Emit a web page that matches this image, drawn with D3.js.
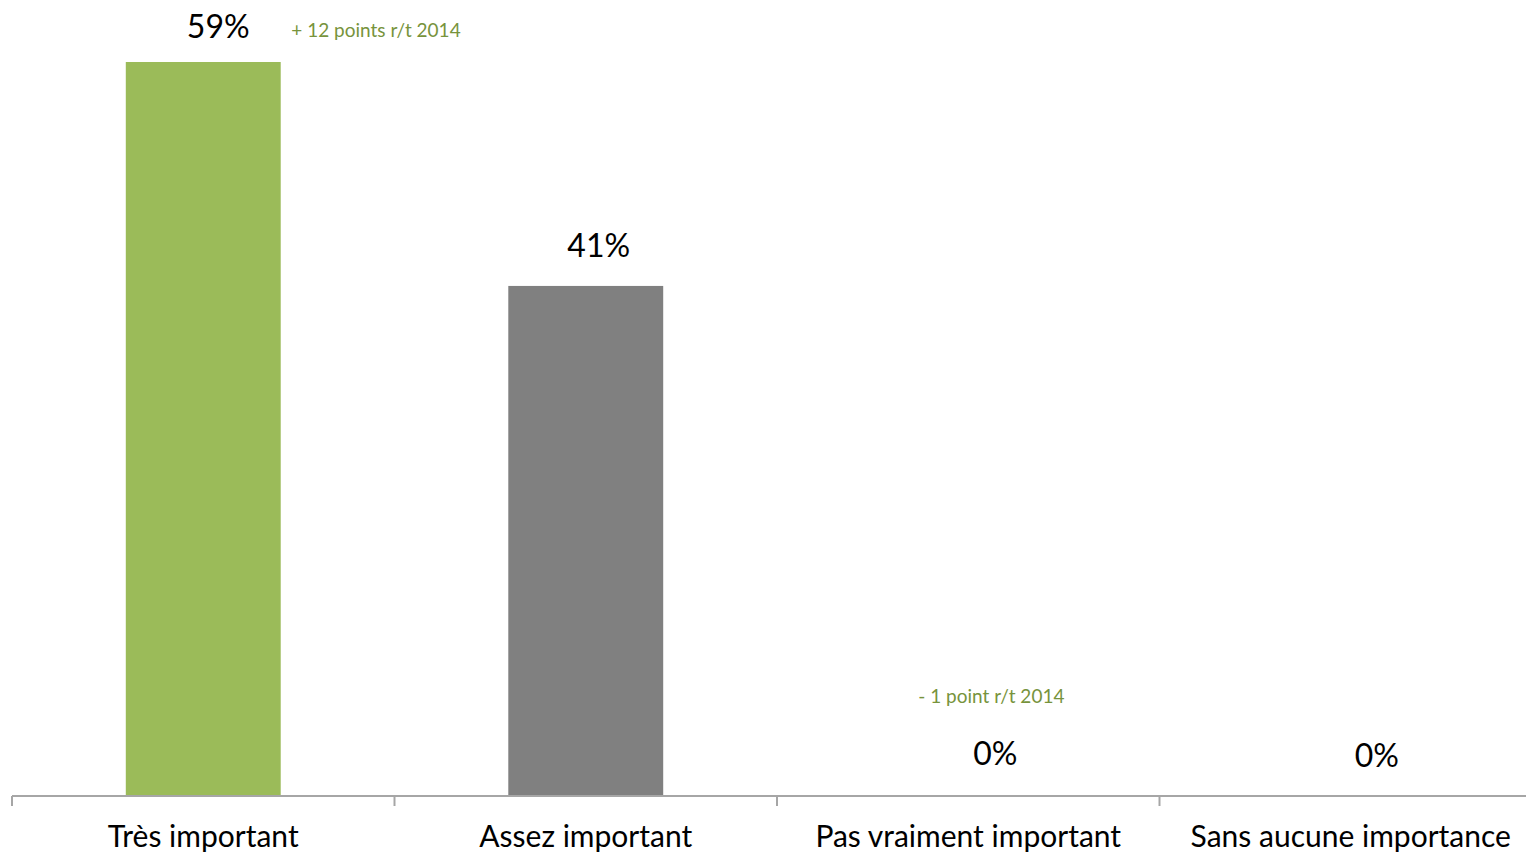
<!DOCTYPE html>
<html>
<head>
<meta charset="utf-8">
<script src="https://cdn.jsdelivr.net/npm/d3@7"></script>
<style>
  html, body { margin: 0; padding: 0; background: #fff; }
  svg { display: block; }
  text { font-family: Lato, "Open Sans", sans-serif; }
</style>
</head>
<body>
<svg id="chart" width="1526" height="852"></svg>
<script>
// Importance ratings (share of respondents, %)
const categories = ["Très important", "Assez important", "Pas vraiment important", "Sans aucune importance"];
const values = [59, 41, 0, 0];
const barColors = ["#9BBB59", "#808080", "#808080", "#808080"];
const valueLabels = ["59%", "41%", "0%", "0%"];
// Change versus 2014, shown next to some categories
const changeNotes = ["+ 12 points r/t 2014", null, "- 1 point r/t 2014", null];

const width = 1526, height = 852;
const margin = { left: 12, baselineY: 796, top: 62 };

const svg = d3.select("#chart");

const x = d3.scaleBand()
  .domain(categories)
  .range([margin.left, margin.left + 4 * 382.5])
  .paddingInner(0.595)
  .paddingOuter(0.2975);

const y = d3.scaleLinear()
  .domain([0, 59])
  .range([margin.baselineY, margin.top]);

// bars
svg.append("g")
  .selectAll("rect")
  .data(categories)
  .join("rect")
  .attr("x", d => x(d))
  .attr("width", x.bandwidth())
  .attr("y", (d, i) => y(values[i]))
  .attr("height", (d, i) => y(0) - y(values[i]))
  .attr("fill", (d, i) => barColors[i]);

// category axis: gray baseline with ticks between categories
const axis = svg.append("g");
const step = x.step();
axis.append("line")
  .attr("x1", margin.left).attr("x2", width)
  .attr("y1", y(0)).attr("y2", y(0))
  .attr("stroke", "#A6A6A6").attr("stroke-width", 2);
axis.selectAll("line.tick")
  .data(d3.range(categories.length))
  .join("line")
  .attr("class", "tick")
  .attr("x1", i => margin.left + i * step)
  .attr("x2", i => margin.left + i * step)
  .attr("y1", y(0)).attr("y2", y(0) + 10)
  .attr("stroke", "#A6A6A6").attr("stroke-width", 2);
axis.selectAll("text")
  .data(categories)
  .join("text")
  .attr("x", d => x(d) + x.bandwidth() / 2)
  .attr("y", y(0) + 51)
  .attr("text-anchor", "middle")
  .attr("font-size", 30)
  .attr("fill", "#000")
  .text(d => d);

// value labels above bars
const labelDx = [15, 13, 27, 26];
const labelGap = [24, 29, 31, 29];
svg.append("g")
  .selectAll("text")
  .data(categories)
  .join("text")
  .attr("x", (d, i) => x(d) + x.bandwidth() / 2 + labelDx[i])
  .attr("y", (d, i) => y(values[i]) - labelGap[i])
  .attr("text-anchor", "middle")
  .attr("font-size", 32)
  .attr("fill", "#000")
  .text((d, i) => valueLabels[i]);

// change notes in green
const noteDx = [88, 0, -50, 0];
const noteDy = [-25, 0, -93, 0];
svg.append("g")
  .selectAll("text")
  .data(categories.filter((d, i) => changeNotes[i]))
  .join("text")
  .attr("x", d => { const i = categories.indexOf(d); return x(d) + x.bandwidth() / 2 + noteDx[i]; })
  .attr("y", d => { const i = categories.indexOf(d); return y(values[i]) + noteDy[i]; })
  .attr("font-size", 19)
  .attr("fill", "#77933C")
  .text(d => changeNotes[categories.indexOf(d)]);
</script>
</body>
</html>
